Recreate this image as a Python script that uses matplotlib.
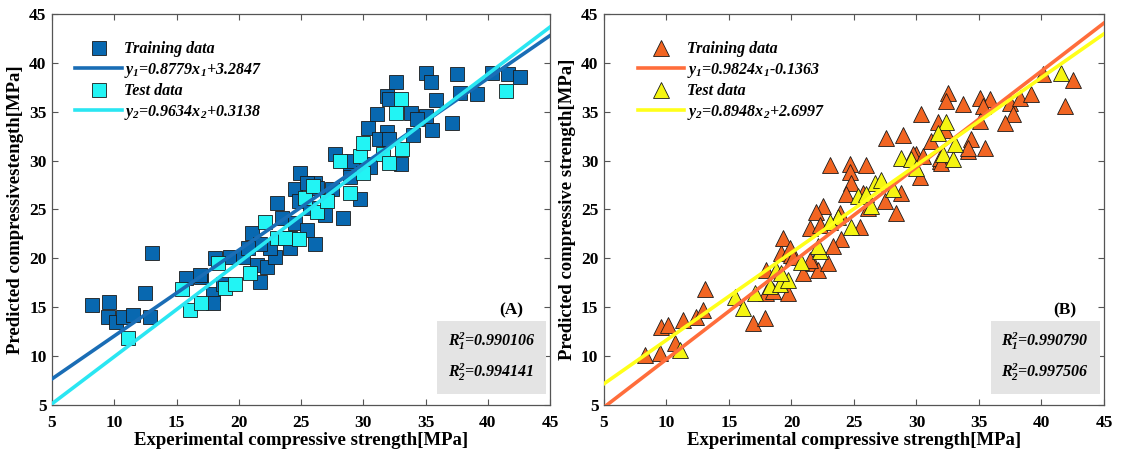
import matplotlib
matplotlib.use("Agg")
import matplotlib.pyplot as plt
import numpy as np

plt.rcParams["font.family"] = ["Liberation Serif", "DejaVu Serif"]
plt.rcParams["font.weight"] = "bold"
plt.rcParams["mathtext.fontset"] = "custom"
plt.rcParams["mathtext.rm"] = "Liberation Serif:style=italic:weight=bold"
plt.rcParams["mathtext.it"] = "Liberation Serif:style=italic:weight=bold"
plt.rcParams["mathtext.bf"] = "Liberation Serif:style=italic:weight=bold"

# ---------------- Panel A : measured vs predicted (squares) ----------------
a_train_x = [8.2, 9.6, 12.5, 9.5, 10.1, 10.7, 11.5, 12.9, 13.0, 17.0, 17.9, 17.9,
             19.3, 20.3, 15.8, 16.9, 18.1, 18.7, 21.1, 21.7, 21.5, 22.3, 22.9, 22.5,
             23.1, 23.5, 24.1, 24.5, 24.9, 24.5, 24.8, 25.5, 26.1, 25.7, 26.1, 26.9,
             27.5, 28.4, 29.7, 27.7, 28.9, 30.3, 24.1, 21.7, 20.7, 35.0, 35.4, 37.5,
             40.3, 41.6, 42.6, 37.8, 39.1, 32.6, 31.9, 32.1, 35.8, 33.8, 35.0, 34.3,
             31.1, 37.1, 35.5, 34.0, 30.4, 31.9, 31.3, 32.1, 33.0, 29.1, 30.5, 25.5,
             26.3, 28.9]
a_train_y = [15.2, 15.5, 16.5, 14.0, 13.5, 14.0, 14.2, 14.0, 20.5, 18.1, 16.4, 15.4,
             20.1, 20.1, 18.0, 18.3, 20.0, 17.4, 22.6, 17.6, 19.3, 19.1, 20.1, 21.1,
             25.7, 24.1, 22.1, 23.6, 28.7, 27.1, 25.9, 22.9, 21.5, 25.2, 27.7, 24.4,
             27.1, 24.1, 26.1, 30.7, 29.7, 29.7, 21.1, 21.5, 21.1, 39.0, 38.0, 38.9,
             39.0, 38.9, 38.6, 36.9, 36.8, 38.0, 36.6, 36.3, 36.2, 34.9, 34.6, 34.3,
             34.8, 33.8, 33.1, 32.6, 33.3, 32.9, 32.2, 32.2, 29.7, 30.0, 29.3, 27.7,
             27.2, 28.3]
a_test_x = [11.1, 15.4, 16.1, 17.0, 18.3, 18.9, 19.7, 20.9, 22.1, 23.1, 23.7, 24.8,
            25.3, 26.0, 26.3, 27.1, 28.1, 28.9, 29.7, 30.0, 41.5, 33.0, 32.6, 30.0,
            31.6, 32.1, 33.1]
a_test_y = [11.9, 16.9, 14.7, 15.4, 19.5, 17.0, 17.4, 18.5, 23.7, 22.1, 22.1, 22.0,
            26.2, 27.4, 24.7, 25.9, 30.0, 26.7, 30.5, 28.7, 37.1, 36.3, 34.9, 31.8,
            30.7, 29.8, 31.2]
a_fit = [(0.8779, 3.2847), (0.9634, 0.3138)]
a_fit_labels = ["y$_{1}$=0.8779x$_{1}$+3.2847", "y$_{2}$=0.9634x$_{2}$+0.3138"]
a_r2 = ["R$^{2}_{1}$=0.990106", "R$^{2}_{2}$=0.994141"]

# ---------------- Panel B : measured vs predicted (triangles) ----------------
b_train_x = [8.3, 9.5, 10.7, 9.6, 10.1, 11.3, 12.4, 12.9, 13.1, 16.9, 17.9, 18.0,
             19.2, 20.0, 18.0, 18.5, 19.7, 20.9, 21.7, 22.1, 22.9, 23.1, 24.7, 26.0,
             24.7, 24.8, 24.4, 25.7, 22.5, 22.0, 21.5, 22.3, 23.9, 25.5, 19.3, 19.9,
             20.1, 24.0, 23.3, 21.5, 27.5, 28.8, 28.4, 26.1, 30.0, 30.3, 31.9, 34.1,
             40.1, 42.5, 41.9, 32.5, 32.4, 33.7, 35.1, 35.9, 35.3, 37.5, 38.3, 39.2,
             30.4, 37.7, 37.1, 31.7, 32.3, 35.1, 27.6, 28.9, 31.2, 34.4, 34.1, 35.5,
             29.7, 30.5, 31.9, 32.0]
b_train_y = [10.1, 10.3, 11.3, 13.0, 13.2, 13.7, 14.0, 14.7, 16.9, 13.4, 13.9, 18.8,
             20.5, 20.3, 16.5, 16.7, 16.5, 18.5, 19.5, 18.8, 19.5, 29.5, 29.7, 29.5,
             28.8, 27.7, 26.6, 26.7, 25.4, 24.7, 23.1, 23.4, 24.6, 23.2, 22.1, 21.1,
             20.1, 22.0, 21.3, 19.8, 25.9, 26.7, 24.6, 25.2, 30.7, 28.3, 30.0, 31.0,
             38.9, 38.2, 35.6, 36.9, 36.1, 35.8, 36.4, 36.3, 35.6, 35.9, 36.4, 36.8,
             34.8, 34.8, 33.8, 33.9, 33.1, 34.1, 32.3, 32.6, 32.0, 32.2, 31.3, 31.3,
             30.7, 30.5, 30.3, 29.8]
b_test_x = [11.1, 15.5, 16.1, 17.1, 18.8, 18.3, 19.1, 19.7, 20.8, 22.3, 28.8, 29.6,
            32.1, 32.9, 30.0, 26.7, 27.2, 28.1, 25.3, 26.0, 26.4, 24.8, 23.7, 23.1,
            22.1, 19.2, 41.6, 32.4, 31.7, 33.1]
b_test_y = [10.6, 16.0, 14.9, 16.5, 18.8, 17.2, 17.4, 17.8, 19.6, 20.8, 30.3, 30.2,
            30.7, 30.2, 29.2, 27.7, 28.0, 27.1, 26.4, 26.6, 25.4, 23.2, 24.2, 23.7,
            21.3, 18.5, 39.0, 33.9, 32.8, 31.7]
b_fit = [(0.9824, -0.1363), (0.8948, 2.6997)]
b_fit_labels = ["y$_{1}$=0.9824x$_{1}$-0.1363", "y$_{2}$=0.8948x$_{2}$+2.6997"]
b_r2 = ["R$^{2}_{1}$=0.990790", "R$^{2}_{2}$=0.997506"]

ticks = [5, 10, 15, 20, 25, 30, 35, 40, 45]

fig = plt.figure(figsize=(11.21, 4.59), dpi=100)
ax_a = fig.add_axes([0.0464, 0.1176, 0.4443, 0.852])
ax_b = fig.add_axes([0.5388, 0.1176, 0.4460, 0.852])


def draw_panel(ax, tx, ty, vx, vy, fit, fit_labels, r2, tag, marker, ms,
               c_train, c_test, l_train, l_test, ylabel, leg_x):
    h1, = ax.plot(tx, ty, ls="none", marker=marker, ms=ms, mfc=c_train,
                  mec="#1a1a1a", mew=0.6, label="Training data", zorder=2)
    h3, = ax.plot(vx, vy, ls="none", marker=marker, ms=ms, mfc=c_test,
                  mec="#1a1a1a", mew=0.6, label="Test data", zorder=3)
    xs = np.array([5.0, 45.0])
    h2, = ax.plot(xs, fit[0][0] * xs + fit[0][1], color=l_train, lw=2.6,
                  label=fit_labels[0], zorder=4)
    h4, = ax.plot(xs, fit[1][0] * xs + fit[1][1], color=l_test, lw=2.6,
                  label=fit_labels[1], zorder=5)
    ax.legend(handles=[h1, h2, h3, h4], loc="upper left",
              bbox_to_anchor=(leg_x, 0.93), frameon=False,
              prop={"family": "Liberation Serif", "style": "italic",
                    "weight": "bold", "size": 11.5},
              handlelength=2.9, handletextpad=0.15, labelspacing=0.22,
              borderpad=0, borderaxespad=0)
    ax.set_xlim(5, 45)
    ax.set_ylim(5, 45)
    ax.set_xticks(ticks)
    ax.set_yticks(ticks)
    ax.tick_params(direction="in", top=True, right=True, length=4,
                   width=0.8, color="#555555", labelsize=12.5)
    ax.tick_params(axis="x", pad=7)
    ax.tick_params(axis="y", pad=4)
    for lab in ax.get_xticklabels() + ax.get_yticklabels():
        lab.set_fontweight("bold")
    for s in ax.spines.values():
        s.set_color("#555555")
        s.set_linewidth(0.9)
    ax.set_xlabel("Experimental compressive strength[MPa]", fontsize=13.5,
                  fontweight="bold", labelpad=1)
    ax.set_ylabel(ylabel, fontsize=13.5, fontweight="bold", labelpad=4)
    ax.text(41.9, 14.7, tag, fontsize=12.5, fontweight="bold",
            ha="center", va="center")
    ax.text(40.3, 9.9, r2[0] + "\n" + r2[1], fontsize=11.5, ha="center",
            va="center", linespacing=1.6, style="italic",
            bbox=dict(boxstyle="square,pad=0.65", facecolor="#e4e4e4",
                      edgecolor="none"))


draw_panel(ax_a, a_train_x, a_train_y, a_test_x, a_test_y, a_fit, a_fit_labels,
           a_r2, "(A)", "s", 10.5, "#0868b0", "#22f4f4", "#1a6db5", "#2ae6f2",
           "Predicted compressivestength[MPa]", 0.047)
draw_panel(ax_b, b_train_x, b_train_y, b_test_x, b_test_y, b_fit, b_fit_labels,
           b_r2, "(B)", "^", 11, "#f26522", "#f5f511", "#ff6d3b", "#ffff1a",
           "Predicted compressive strength[MPa]", 0.068)

fig.savefig("out.png", dpi=100)
